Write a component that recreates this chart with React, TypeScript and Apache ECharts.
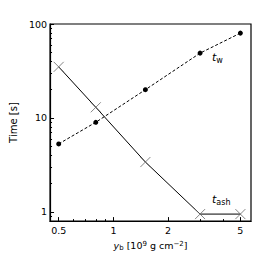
import React, { useEffect, useRef } from "react";
import * as echarts from "echarts";

const yb = [0.5, 0.8, 1.5, 3, 5];
const tW = [5.3, 9, 20, 49, 80];
const tAsh = [35, 13, 3.4, 0.95, 0.95];

const xMajor = [0.5, 1, 2, 5];
const xMinor = [0.6, 0.7, 0.8, 0.9, 3, 4];
const yMajor = [1, 10, 100];
const yMinor = [0.9, 2, 3, 4, 5, 6, 7, 8, 9, 20, 30, 40, 50, 60, 70, 80, 90];

const FONT = "DejaVu Sans";

export default function App() {
  const ref = useRef<HTMLDivElement>(null);
  useEffect(() => {
    if (!ref.current) return;
    document.body.style.margin = "0";
    const chart = echarts.init(ref.current, undefined, { renderer: "svg" });
    const xMin = 0.448, xMax = 5.72, yMin = 0.8, yMax = 100;
    const baseX = {
      type: "log", logBase: 10, min: xMin, max: xMax, position: "bottom",
      splitLine: { show: false }, minorTick: { show: false },
    };
    const baseY = {
      type: "log", logBase: 10, min: yMin, max: yMax, position: "left",
      splitLine: { show: false }, minorTick: { show: false },
    };
    const cross = "path://M0,0L10,10M10,0L0,10";
    chart.setOption({
      animation: false,
      grid: { left: 45, right: 13, top: 24, bottom: 34, show: true, borderColor: "#000", borderWidth: 1.2, backgroundColor: "transparent" },
      xAxis: [
        {
          ...baseX,
          axisLine: { show: true, onZero: false, lineStyle: { color: "#000", width: 1.2 } },
          axisTick: { show: true, inside: true, length: 4, customValues: xMajor, lineStyle: { color: "#000" } },
          axisLabel: { show: true, customValues: xMajor, color: "#000", fontFamily: FONT, fontSize: 9.5, margin: 4 },
          name: "{i|y}{sub|b} [10{sup|9} g cm{sup|−2}]",
          nameLocation: "middle",
          nameGap: 17,
          nameTextStyle: {
            color: "#000", fontFamily: FONT, fontSize: 9.5,
            rich: {
              i: { fontStyle: "italic", fontFamily: FONT, fontSize: 9.5, color: "#000" },
              sub: { fontFamily: FONT, fontSize: 7, verticalAlign: "bottom", padding: [4, 0, 0, 0], color: "#000" },
              sup: { fontFamily: FONT, fontSize: 7, verticalAlign: "top", padding: [0, 0, 4, 0], color: "#000" },
            },
          },
        },
        {
          ...baseX,
          axisLine: { show: false, onZero: false },
          axisTick: { show: true, inside: true, length: 2, customValues: xMinor, lineStyle: { color: "#000" } },
          axisLabel: { show: false },
        },
      ],
      yAxis: [
        {
          ...baseY,
          axisLine: { show: true, onZero: false, lineStyle: { color: "#000", width: 1.2 } },
          axisTick: { show: true, inside: true, length: 4, customValues: yMajor, lineStyle: { color: "#000" } },
          axisLabel: { show: true, customValues: yMajor, color: "#000", fontFamily: FONT, fontSize: 9.5, margin: 3 },
          name: "Time [s]",
          nameLocation: "middle",
          nameGap: 24,
          nameTextStyle: { color: "#000", fontFamily: FONT, fontSize: 10 },
        },
        {
          ...baseY,
          axisLine: { show: false, onZero: false },
          axisTick: { show: true, inside: true, length: 2, customValues: yMinor, lineStyle: { color: "#000" } },
          axisLabel: { show: false },
        },
      ],
      graphic: [
        {
          type: "text", left: 212, top: 52,
          style: {
            text: "{i|t}{s|w}",
            rich: {
              i: { fontStyle: "italic", fontFamily: FONT, fontSize: 11, fill: "#000" },
              s: { fontFamily: FONT, fontSize: 8, fill: "#000", verticalAlign: "bottom", padding: [5, 0, 0, 0] },
            },
          },
        },
        {
          type: "text", left: 212, top: 194,
          style: {
            text: "{i|t}{s|ash}",
            rich: {
              i: { fontStyle: "italic", fontFamily: FONT, fontSize: 11, fill: "#000" },
              s: { fontFamily: FONT, fontSize: 8, fill: "#000", verticalAlign: "bottom", padding: [5, 0, 0, 0] },
            },
          },
        },
      ],
      series: [
        {
          type: "line",
          xAxisIndex: 0, yAxisIndex: 0,
          data: yb.map((x, i) => [x, tW[i]]),
          symbol: "circle",
          symbolSize: 5,
          showAllSymbol: true,
          itemStyle: { color: "#000" },
          lineStyle: { color: "#000", width: 1, type: [3, 2] },
        },
        {
          type: "line",
          xAxisIndex: 0, yAxisIndex: 0,
          data: yb.map((x, i) => [x, tAsh[i]]),
          symbol: cross,
          symbolSize: 10,
          showAllSymbol: true,
          itemStyle: { color: "none", borderColor: "#666", borderWidth: 0.8 },
          lineStyle: { color: "#000", width: 1 },
        },
      ],
    });
    return () => chart.dispose();
  }, []);
  return <div ref={ref} style={{ width: 264, height: 256 }} />;
}
